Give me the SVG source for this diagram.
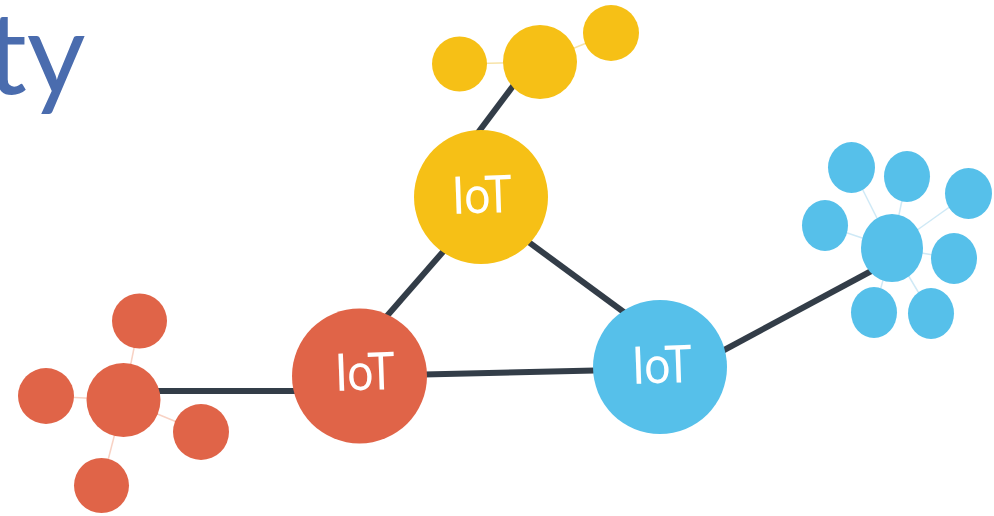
<svg xmlns="http://www.w3.org/2000/svg" width="994" height="516" viewBox="0 0 994 516">
  <style>
    .link { stroke: #333d48; stroke-width: 6; stroke-linecap: butt; fill: none; }
    .spoke { stroke-width: 1.5; fill: none; }
    .red { fill: #e06448; }
    .yellow { fill: #f6c016; }
    .blue { fill: #56c0ea; }
    .red-spoke { stroke: #f8d2c4; }
    .yellow-spoke { stroke: #f7e3a8; }
    .blue-spoke { stroke: #cfe9f6; }
    .hub-label { font-family: "Lato", "Open Sans", sans-serif; font-size: 52px; fill: #ffffff; text-anchor: middle; }
    .title { font-family: "Lato", "Liberation Sans", sans-serif; font-size: 114px; fill: #4a6cae; }
  </style>

  <text class="title" x="-14" y="94">ty</text>

  <!-- thick links between hubs and clusters -->
  <g id="connectors">
    <line class="link" x1="462" y1="230" x2="366" y2="340"/>
    <line class="link" x1="500" y1="221" x2="640" y2="324"/>
    <line class="link" x1="359" y1="376" x2="660" y2="369"/>
    <line class="link" x1="123" y1="391" x2="320" y2="391"/>
    <line class="link" x1="450" y1="170" x2="525" y2="70"/>
    <line class="link" x1="700" y1="363" x2="890" y2="261"/>
  </g>

  <!-- yellow cluster (top) -->
  <g id="yellow-cluster">
    <line class="spoke yellow-spoke" x1="459" y1="64" x2="540" y2="62"/>
    <line class="spoke yellow-spoke" x1="540" y1="62" x2="611" y2="33"/>
    <circle class="yellow" cx="459.5" cy="64" r="27.5"/>
    <circle class="yellow" cx="540" cy="62" r="37"/>
    <circle class="yellow" cx="611" cy="33" r="28"/>
  </g>

  <!-- blue cluster (right) -->
  <g id="blue-cluster">
    <line class="spoke blue-spoke" x1="892" y1="248" x2="851.5" y2="167.5"/>
    <line class="spoke blue-spoke" x1="892" y1="248" x2="907" y2="176.5"/>
    <line class="spoke blue-spoke" x1="892" y1="248" x2="968.5" y2="193.5"/>
    <line class="spoke blue-spoke" x1="892" y1="248" x2="825" y2="225.5"/>
    <line class="spoke blue-spoke" x1="892" y1="248" x2="954" y2="258.5"/>
    <line class="spoke blue-spoke" x1="892" y1="248" x2="874" y2="312.5"/>
    <line class="spoke blue-spoke" x1="892" y1="248" x2="931" y2="313.5"/>
    <ellipse class="blue" cx="851.5" cy="167.5" rx="23.5" ry="25.5"/>
    <ellipse class="blue" cx="907" cy="176.5" rx="23" ry="25.5"/>
    <ellipse class="blue" cx="968.5" cy="193.5" rx="23.5" ry="25.5"/>
    <ellipse class="blue" cx="825" cy="225.5" rx="23" ry="25.5"/>
    <ellipse class="blue" cx="954" cy="258.5" rx="23" ry="25.5"/>
    <ellipse class="blue" cx="874" cy="312.5" rx="23" ry="25.5"/>
    <ellipse class="blue" cx="931" cy="313.5" rx="23" ry="25.5"/>
    <ellipse class="blue" cx="892" cy="248" rx="31" ry="34"/>
  </g>

  <!-- red cluster (left) -->
  <g id="red-cluster">
    <line class="spoke red-spoke" x1="123.5" y1="400" x2="139.5" y2="321"/>
    <line class="spoke red-spoke" x1="123.5" y1="400" x2="46" y2="396"/>
    <line class="spoke red-spoke" x1="123.5" y1="400" x2="201" y2="432"/>
    <line class="spoke red-spoke" x1="123.5" y1="400" x2="101.5" y2="485.5"/>
    <circle class="red" cx="139.5" cy="321" r="27.5"/>
    <circle class="red" cx="46" cy="396" r="28"/>
    <circle class="red" cx="201" cy="432" r="28"/>
    <circle class="red" cx="101.5" cy="485.5" r="27.5"/>
    <circle class="red" cx="123.5" cy="400" r="37"/>
  </g>

  <!-- IoT hubs -->
  <g id="hub-yellow">
    <circle class="yellow" cx="481" cy="197" r="67"/>
    <text class="hub-label" x="482" y="213" textLength="60" lengthAdjust="spacingAndGlyphs" transform="rotate(-2 482 197)">IoT</text>
  </g>
  <g id="hub-red">
    <circle class="red" cx="359.5" cy="376" r="67.5"/>
    <text class="hub-label" x="365" y="390" textLength="60" lengthAdjust="spacingAndGlyphs" transform="rotate(-2 365 376)">IoT</text>
  </g>
  <g id="hub-blue">
    <circle class="blue" cx="660" cy="367" r="67"/>
    <text class="hub-label" x="662" y="383" textLength="60" lengthAdjust="spacingAndGlyphs" transform="rotate(-2 662 367)">IoT</text>
  </g>
</svg>
